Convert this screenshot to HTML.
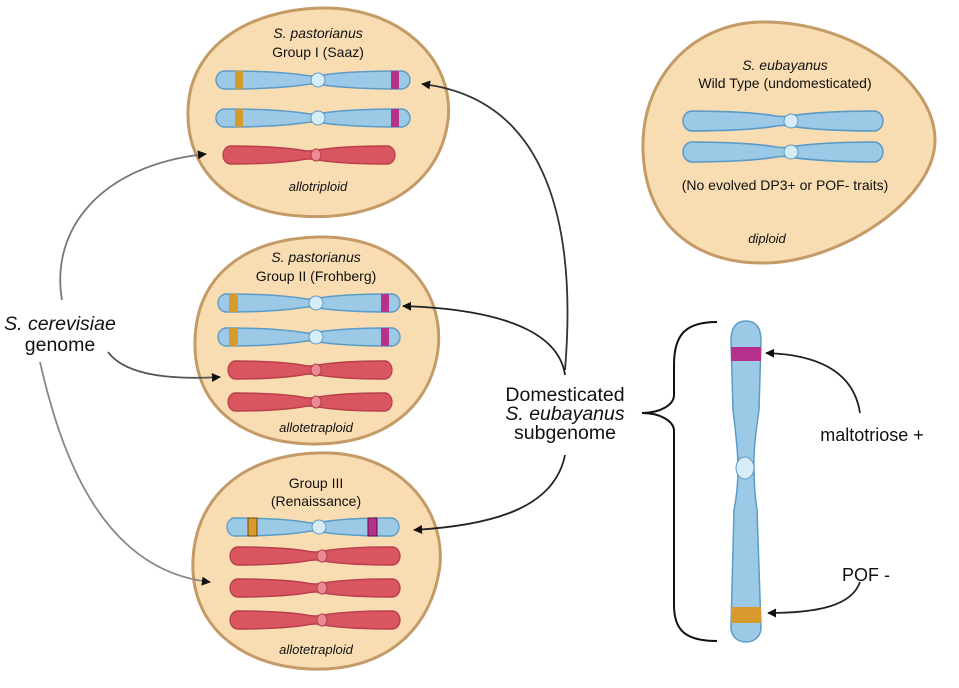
<!DOCTYPE html>
<html><head><meta charset="utf-8"><style>
html,body{margin:0;padding:0;background:#fff}
svg{display:block}
text{font-family:"Liberation Sans",sans-serif;fill:#111}
</style></head><body>
<svg width="959" height="688" viewBox="0 0 959 688" xmlns="http://www.w3.org/2000/svg">
<defs>
<path id="ch" d="M-91,-9 C-50,-9 -25,-7 -10,-5 Q0,-3 10,-5 C25,-7 50,-9 91,-9 A9,9 0 0 1 91,9 C50,9 25,7 10,5 Q0,3 -10,5 C-25,7 -50,9 -91,9 A9,9 0 0 1 -91,-9 Z"/>
<marker id="ar" viewBox="0 0 10 10" refX="9" refY="5" markerWidth="9" markerHeight="9" orient="auto" markerUnits="userSpaceOnUse"><path d="M0,0 L10,5 L0,10 Z" fill="#111"/></marker>
</defs>
<g fill="#f9ddb2" stroke="#c49a66" stroke-width="3">
<path d="M320,8 C400,6 455,60 448,120 C440,185 380,222 300,216 C230,212 186,170 188,110 C190,45 250,10 320,8 Z"/>
<path d="M318,237 C400,235 445,290 438,350 C430,410 380,446 310,444 C240,442 193,405 195,340 C197,275 245,239 318,237 Z"/>
<path d="M318,453 C395,450 445,505 440,565 C432,630 385,672 310,669 C240,666 190,625 193,560 C196,495 245,455 318,453 Z"/>
<path d="M760,22 C850,20 935,80 935,140 C935,200 840,262 765,263 C695,264 645,225 643,150 C641,80 690,24 760,22 Z"/>
</g>
<g font-size="14" text-anchor="middle">
<text x="318" y="38" font-style="italic">S. pastorianus</text>
<text x="318" y="57">Group I (Saaz)</text>
<text x="318" y="191" font-style="italic" font-size="13">allotriploid</text>
<text x="316" y="262" font-style="italic">S. pastorianus</text>
<text x="316" y="281">Group II (Frohberg)</text>
<text x="316" y="432" font-style="italic" font-size="13">allotetraploid</text>
<text x="316" y="488">Group III</text>
<text x="316" y="506">(Renaissance)</text>
<text x="316" y="654" font-style="italic" font-size="13">allotetraploid</text>
<text x="785" y="70" font-style="italic">S. eubayanus</text>
<text x="785" y="88">Wild Type (undomesticated)</text>
<text x="785" y="190">(No evolved DP3+ or POF- traits)</text>
<text x="767" y="243" font-style="italic" font-size="13">diploid</text>
</g>
<g font-size="19.5">
<text x="60" y="330" text-anchor="middle" font-style="italic">S. cerevisiae</text>
<text x="60" y="351" text-anchor="middle">genome</text>
<text x="565" y="401" text-anchor="middle">Domesticated</text>
<text x="565" y="420" text-anchor="middle" font-style="italic">S. eubayanus</text>
<text x="565" y="439" text-anchor="middle">subgenome</text>
<text x="872" y="441" text-anchor="middle" font-size="18">maltotriose +</text>
<text x="866" y="581" text-anchor="middle" font-size="18">POF -</text>
</g>
<g fill="#9cc9e6" stroke="#5b9cc7" stroke-width="1.5">
<use href="#ch" transform="translate(313,80) scale(0.97,1)"/>
<use href="#ch" transform="translate(313,118) scale(0.97,1)"/>
<use href="#ch" transform="translate(309,303) scale(0.91,1)"/>
<use href="#ch" transform="translate(309,337) scale(0.91,1)"/>
<use href="#ch" transform="translate(313,527) scale(0.86,1)"/>
<use href="#ch" transform="translate(783,121) scale(1.0,1.1)"/>
<use href="#ch" transform="translate(783,152) scale(1.0,1.1)"/>
</g>
<g fill="#d89a2c">
<rect x="235" y="71" width="8" height="18"/><rect x="235" y="109" width="8" height="18"/>
<rect x="229" y="294" width="9" height="18"/><rect x="229" y="328" width="9" height="18"/>
<rect x="248" y="518" width="9" height="18" stroke="#6a4a10" stroke-width="1"/>
</g>
<g fill="#b5318c">
<rect x="391" y="71" width="8" height="18"/><rect x="391" y="109" width="8" height="18"/>
<rect x="381" y="294" width="8" height="18"/><rect x="381" y="328" width="8" height="18"/>
<rect x="368" y="518" width="9" height="18" stroke="#5a1040" stroke-width="1"/>
</g>
<g fill="#d95560" stroke="#b8404a" stroke-width="1.5">
<use href="#ch" transform="translate(309,155) scale(0.86,1)"/>
<use href="#ch" transform="translate(310,370) scale(0.82,1)"/>
<use href="#ch" transform="translate(310,402) scale(0.82,1)"/>
<use href="#ch" transform="translate(315,556) scale(0.85,1)"/>
<use href="#ch" transform="translate(315,588) scale(0.85,1)"/>
<use href="#ch" transform="translate(315,620) scale(0.85,1)"/>
</g>
<g fill="#d6ecf7" stroke="#5b9cc7" stroke-width="1">
<ellipse cx="318" cy="80" rx="7" ry="7"/><ellipse cx="318" cy="118" rx="7" ry="7"/>
<ellipse cx="316" cy="303" rx="7" ry="7"/><ellipse cx="316" cy="337" rx="7" ry="7"/>
<ellipse cx="319" cy="527" rx="7" ry="7"/>
<ellipse cx="791" cy="121" rx="7" ry="7"/><ellipse cx="791" cy="152" rx="7" ry="7"/>
</g>
<g fill="#ec8a93" stroke="#b8404a" stroke-width="1">
<ellipse cx="316" cy="155" rx="5" ry="6"/>
<ellipse cx="316" cy="370" rx="5" ry="6"/><ellipse cx="316" cy="402" rx="5" ry="6"/>
<ellipse cx="322" cy="556" rx="5" ry="6"/><ellipse cx="322" cy="588" rx="5" ry="6"/><ellipse cx="322" cy="620" rx="5" ry="6"/>
</g>
<path d="M746,321 C756,321 761,328 761,341 L759,410 Q753,450 754,468 Q754,490 757,510 L761,627 C761,637 754,642 746,642 C738,642 731,637 731,627 L734,510 Q738,490 738,468 Q738,450 733,410 L731,341 C731,328 736,321 746,321 Z" fill="#9cc9e6" stroke="#5b9cc7" stroke-width="1.5"/>
<rect x="731" y="347" width="30" height="14" fill="#b5318c"/>
<rect x="731" y="607" width="30" height="16" fill="#d89a2c"/>
<ellipse cx="745" cy="468" rx="9" ry="11" fill="#d6ecf7" stroke="#5b9cc7"/>
<path d="M717,322 C685,322 674,335 674,365 L674,395 C674,405 660,413 642,413 C660,413 674,421 674,431 L674,605 C674,630 685,641 717,641" fill="none" stroke="#111" stroke-width="2"/>
<g fill="none" stroke="#222" stroke-width="1.8" marker-end="url(#ar)">
<path d="M565,370 C575,250 560,100 422,84" stroke="#333"/>
<path d="M565,375 C560,340 520,310 403,306"/>
<path d="M565,455 C555,505 500,525 414,530"/>
<path d="M62,300 C50,230 100,165 206,154" stroke="#777"/>
<path d="M108,352 C125,375 170,380 220,377" stroke="#555"/>
<path d="M40,362 C60,450 100,570 210,582" stroke="#888"/>
<path d="M860,413 C855,380 830,355 766,353"/>
<path d="M860,582 C852,605 820,613 768,613"/>
</g>
</svg>
</body></html>
